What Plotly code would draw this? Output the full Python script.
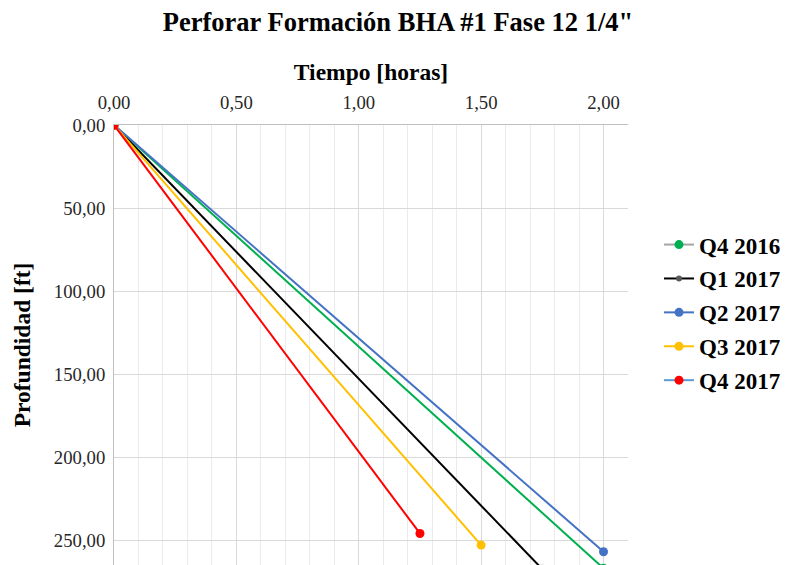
import plotly.graph_objects as go

series_names = ["Q4 2016", "Q1 2017", "Q2 2017", "Q3 2017", "Q4 2017"]
tiempo = [[0.0, 2.0], [0.0, 1.75], [0.0, 2.0], [0.0, 1.5], [0.0, 1.25]]
profundidad = [[0.0, 267.0], [0.0, 267.5], [0.0, 257.0], [0.0, 253.0], [0.0, 246.0]]
line_colors = ["#00B050", "#000000", "#4472C4", "#FFC000", "#FF0000"]
marker_colors = ["#00B050", "#595959", "#4472C4", "#FFC000", "#FF0000"]
legend_line_colors = ["#A5A5A5", "#000000", "#4472C4", "#FFC000", "#5B9BD5"]
legend_marker_sizes = [9, 6, 9, 9, 9]

font_family = "Liberation Serif"

fig = go.Figure()
for name, xs, ys, lc, mc in zip(series_names, tiempo, profundidad, line_colors, marker_colors):
    fig.add_trace(go.Scatter(
        x=xs, y=ys, mode="lines+markers", name=name, showlegend=False,
        line=dict(color=lc, width=2),
        marker=dict(color=mc, size=9),
    ))

# legend-only entries (styled as in the reference legend)
for name, lc, mc, ms in zip(series_names, legend_line_colors, marker_colors, legend_marker_sizes):
    fig.add_trace(go.Scatter(
        x=[None], y=[None], mode="lines+markers", name="<b>" + name + "</b>",
        legendgroup=name,
        line=dict(color=lc, width=2),
        marker=dict(color=mc, size=ms),
    ))

fig.update_layout(
    width=786, height=565,
    margin=dict(l=114, r=158, t=125, b=0),
    paper_bgcolor="white", plot_bgcolor="white",
    separators=",.",
    font=dict(family=font_family, size=16, color="#262626"),
    title=dict(
        text="<b>Perforar Formación BHA #1 Fase 12 1/4\"</b>",
        x=398 / 786, xanchor="center", xref="container",
        y=1 - 22 / 565, yanchor="middle", yref="container",
        font=dict(family=font_family, size=26.5, color="black"),
    ),
    legend=dict(
        x=1.061, y=0.777, xanchor="left", yanchor="top",
        font=dict(family=font_family, size=23, color="black"),
        tracegroupgap=1, itemsizing="trace",
        itemwidth=30,
    ),
    xaxis=dict(
        side="top", range=[0, 2.1], dtick=0.5, tickformat=".2f",
        showgrid=True, gridcolor="#D9D9D9", gridwidth=1,
        minor=dict(dtick=0.1, showgrid=True, gridcolor="#EBEBEB", gridwidth=1),
        showline=True, linecolor="#BFBFBF", linewidth=1,
        ticks="", zeroline=False, ticklabelstandoff=8,
        tickfont=dict(family=font_family, size=18.7, color="#262626"),
        title=dict(text="<b>Tiempo [horas]</b>", standoff=4,
                   font=dict(family=font_family, size=23.5, color="black")),
    ),
    yaxis=dict(
        range=[265, 0], dtick=50, tickformat=".2f",
        showgrid=True, gridcolor="#D9D9D9", gridwidth=1,
        showline=True, linecolor="#BFBFBF", linewidth=1,
        ticks="", zeroline=False, ticklabelstandoff=4,
        tickfont=dict(family=font_family, size=18.7, color="#262626"),
        title=dict(text="<b>Profundidad [ft]</b>", standoff=16,
                   font=dict(family=font_family, size=23.5, color="black")),
    ),
)

fig.write_html("out.html")
